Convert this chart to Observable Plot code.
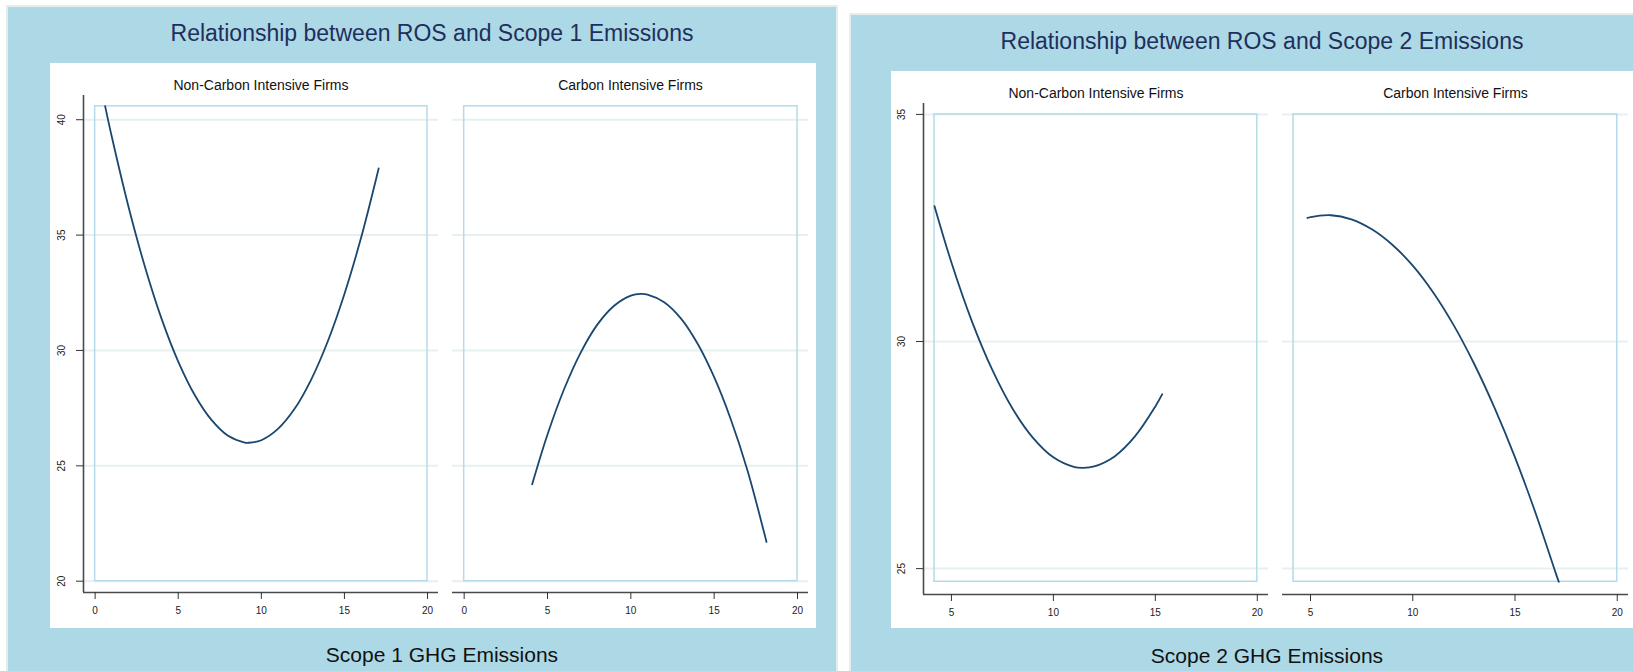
<!DOCTYPE html>
<html><head><meta charset="utf-8">
<script src="https://cdn.jsdelivr.net/npm/d3@7"></script>
<script src="https://cdn.jsdelivr.net/npm/@observablehq/plot@0.6"></script>
<style>
body{margin:0;background:#fff;width:1633px;height:671px;position:relative;overflow:hidden;font-family:"Liberation Sans",Arial,sans-serif;}
.fig{position:absolute;background:#add8e6;box-sizing:border-box;border:2px solid #e4eced;}
.inner{position:absolute;background:#fff;}
.title{position:absolute;transform:translate(-50%,-50%);white-space:nowrap;font-size:23px;color:#1f2f5c;}
.caption{position:absolute;transform:translate(-50%,-50%);white-space:nowrap;font-size:21px;color:#111;}
svg{position:absolute;}
</style></head><body>
<div class="fig" style="left:6px;top:5px;width:832px;height:670px"></div>
<div class="fig" style="left:849px;top:13px;width:790px;height:662px"></div>
<div class="inner" style="left:50px;top:63px;width:766px;height:565px"></div>
<div class="inner" style="left:891px;top:71px;width:750px;height:557px"></div>
<div class="title" id="t1" style="left:432px;top:33px"></div>
<div class="title" id="t2" style="left:1262px;top:41px"></div>
<div class="caption" id="c1" style="left:442px;top:655px"></div>
<div class="caption" id="c2" style="left:1267px;top:656px"></div>
<script>
// ---- Text ----
const figTitles = ["Relationship between ROS and Scope 1 Emissions", "Relationship between ROS and Scope 2 Emissions"];
const figCaptions = ["Scope 1 GHG Emissions", "Scope 2 GHG Emissions"];
const panelNames = ["Non-Carbon Intensive Firms", "Carbon Intensive Firms"];

// ---- Ticks ----
const s1XTicks = [0, 5, 10, 15, 20];
const s1YTicks = [20, 25, 30, 35, 40];
const s2XTicks = [5, 10, 15, 20];
const s2YTicks = [25, 30, 35];

// ---- Plot region (range of data and ticks) ----
const s1RegionX = [0, 20];
const s1RegionY = [20, 40.58];
const s2RegionX = [4.17, 20];
const s2RegionY = [24.71, 35];

// ---- Axis extents ----
const s1XDomain = [-0.7, 20.66];
const s1YDomain = [19.51, 41.05];
const s2XDomain = [3.63, 20.55];
const s2YDomain = [24.43, 35.24];

// ---- Series: Scope 1, Non-Carbon Intensive ----
const s1NonRos = [0.6, 1, 2, 3, 4, 5, 6, 7, 8, 9, 9.25, 10, 11, 12, 13, 14, 15, 16, 17, 17.06];
const s1NonEm  = [40.59, 39.27, 36.25, 33.62, 31.37, 29.52, 28.06, 26.99, 26.30, 26.01, 26.00, 26.11, 26.60, 27.47, 28.74, 30.40, 32.45, 34.88, 37.71, 37.89];
// ---- Series: Scope 1, Carbon Intensive ----
const s1CarRos = [4.08, 5, 6, 7, 8, 9, 10, 10.62, 11, 12, 13, 14, 15, 16, 17, 18, 18.14];
const s1CarEm  = [24.20, 26.36, 28.33, 29.92, 31.13, 31.94, 32.38, 32.45, 32.42, 32.09, 31.39, 30.30, 28.84, 27.01, 24.80, 22.10, 21.70];
// ---- Series: Scope 2, Non-Carbon Intensive ----
const s2NonRos = [4.17, 5, 6, 7, 8, 9, 10, 11, 11.47, 12, 13, 14, 15, 15.34];
const s2NonEm  = [32.98, 31.74, 30.45, 29.38, 28.52, 27.88, 27.45, 27.24, 27.22, 27.25, 27.47, 27.91, 28.57, 28.84];
// ---- Series: Scope 2, Carbon Intensive ----
const s2CarRos = [4.85, 5, 6, 7, 8, 9, 10, 11, 12, 13, 14, 15, 16, 17, 17.14];
const s2CarEm  = [32.72, 32.74, 32.78, 32.69, 32.47, 32.13, 31.67, 31.08, 30.36, 29.51, 28.54, 27.45, 26.23, 24.89, 24.71];

document.getElementById("t1").textContent = figTitles[0];
document.getElementById("t2").textContent = figTitles[1];
document.getElementById("c1").textContent = figCaptions[0];
document.getElementById("c2").textContent = figCaptions[1];

function panel(o) {
  const data = o.xs.map((x, i) => ({ros: x, em: o.ys[i]}));
  const region = [{x1: o.regX[0], x2: o.regX[1], y1: o.regY[0], y2: o.regY[1]}];
  const marks = [
    Plot.gridY(o.yTicks, {stroke: "#e6eff2", strokeOpacity: 1, strokeWidth: 2}),
    Plot.rect(region, {x1: "x1", x2: "x2", y1: "y1", y2: "y2", fill: "none", stroke: "#b3dbe9", strokeWidth: 1.5}),
    Plot.ruleY([o.yDom[0]], {stroke: "#4a4a4a", strokeWidth: 1.6}),
    Plot.axisX(o.xTicks, {tickSize: 7, tickPadding: 7, fontSize: 10, stroke: "#333"}),
    Plot.line(data, {x: "ros", y: "em", stroke: "#1a476f", strokeWidth: 1.8, curve: "catmull-rom"}),
    Plot.text([o.label], {frameAnchor: "top", dy: -15.5, fontSize: 14, fill: "#111"})
  ];
  if (o.showY) {
    marks.push(Plot.ruleX([o.xDom[0]], {stroke: "#4a4a4a", strokeWidth: 1.6}));
    marks.push(Plot.axisY(o.yTicks, {tickSize: 7, tickPadding: 12, tickRotate: -90, fontSize: 10, stroke: "#333"}));
  }
  const svg = Plot.plot({
    width: o.width, height: o.height,
    marginLeft: o.mL, marginRight: o.mR, marginTop: o.mT, marginBottom: o.mB,
    x: {domain: o.xDom, axis: null},
    y: {domain: o.yDom, axis: null},
    style: {background: "transparent", fontFamily: "Liberation Sans, Arial, sans-serif", color: "#222", overflow: "visible"},
    marks
  });
  svg.style.position = "absolute";
  svg.style.left = o.left + "px";
  svg.style.top = o.top + "px";
  document.body.appendChild(svg);
}

// Scope 1 figure
panel({left: 50, top: 63, width: 395, height: 565, mL: 33, mR: 7, mT: 32, mB: 36,
  xDom: s1XDomain, yDom: s1YDomain, xTicks: s1XTicks, yTicks: s1YTicks,
  regX: s1RegionX, regY: s1RegionY, xs: s1NonRos, ys: s1NonEm, label: panelNames[0], showY: true});
panel({left: 445, top: 63, width: 371, height: 565, mL: 7, mR: 8, mT: 32, mB: 36,
  xDom: s1XDomain, yDom: s1YDomain, xTicks: s1XTicks, yTicks: s1YTicks,
  regX: s1RegionX, regY: s1RegionY, xs: s1CarRos, ys: s1CarEm, label: panelNames[1], showY: false});
// Scope 2 figure
panel({left: 891, top: 71, width: 384, height: 557, mL: 32, mR: 7, mT: 32, mB: 34,
  xDom: s2XDomain, yDom: s2YDomain, xTicks: s2XTicks, yTicks: s2YTicks,
  regX: s2RegionX, regY: s2RegionY, xs: s2NonRos, ys: s2NonEm, label: panelNames[0], showY: true});
panel({left: 1275, top: 71, width: 358, height: 557, mL: 7, mR: 5, mT: 32, mB: 34,
  xDom: s2XDomain, yDom: s2YDomain, xTicks: s2XTicks, yTicks: s2YTicks,
  regX: s2RegionX, regY: s2RegionY, xs: s2CarRos, ys: s2CarEm, label: panelNames[1], showY: false});
</script>
</body></html>
